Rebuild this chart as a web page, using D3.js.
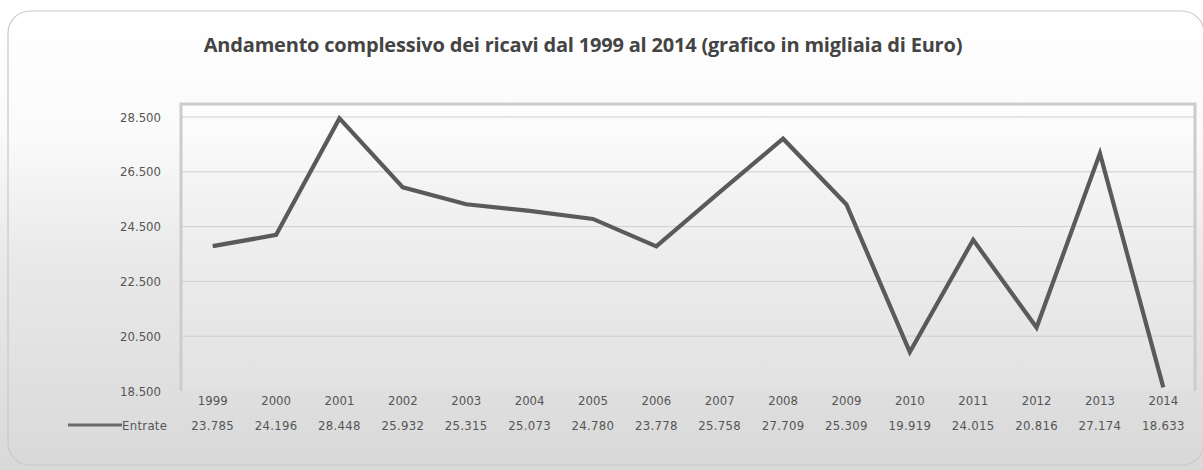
<!DOCTYPE html>
<html><head><meta charset="utf-8">
<script src="https://cdn.jsdelivr.net/npm/d3@7"></script>
<style>html,body{margin:0;padding:0;background:#fff;}svg{display:block;}</style>
</head><body>
<script>
const years = ["1999","2000","2001","2002","2003","2004","2005","2006","2007","2008","2009","2010","2011","2012","2013","2014"];
const entrate = [23785,24196,28448,25932,25315,25073,24780,23778,25758,27709,25309,19919,24015,20816,27174,18633];
const entrateLabels = ["23.785","24.196","28.448","25.932","25.315","25.073","24.780","23.778","25.758","27.709","25.309","19.919","24.015","20.816","27.174","18.633"];
const yTicks = [18500,20500,22500,24500,26500,28500];
const seriesName = "Entrate";
const chartTitle = "Andamento complessivo dei ricavi dal 1999 al 2014 (grafico in migliaia di Euro)";

(function(){
const W = 1203, H = 470;
const svg = d3.select("body").append("svg").attr("width", W).attr("height", H);
const defs = svg.append("defs");
const g1 = defs.append("linearGradient").attr("id","bg").attr("x1",0).attr("y1",0).attr("x2",0).attr("y2",1);
g1.append("stop").attr("offset","0%").attr("stop-color","#ffffff");
g1.append("stop").attr("offset","28%").attr("stop-color","#fafafa");
g1.append("stop").attr("offset","55%").attr("stop-color","#e9e9e9");
g1.append("stop").attr("offset","100%").attr("stop-color","#d9d9d9");
const g2 = defs.append("linearGradient").attr("id","plotbg").attr("x1",0).attr("y1",0).attr("x2",0).attr("y2",1);
g2.append("stop").attr("offset","0%").attr("stop-color","#ffffff");
g2.append("stop").attr("offset","30%").attr("stop-color","#f3f3f3");
g2.append("stop").attr("offset","100%").attr("stop-color","#e3e3e3");

svg.append("rect").attr("width",W).attr("height",H).attr("fill","url(#bg)");
svg.append("rect").attr("x",8).attr("y",11).attr("width",1196).attr("height",454).attr("rx",22)
  .attr("fill","url(#bg)").attr("stroke","#c8c8c8").attr("stroke-width",1.2);

svg.append("text").attr("x",583).attr("y",52).attr("text-anchor","middle")
  .attr("font-family","'Open Sans', sans-serif").attr("font-weight","bold").attr("font-size",20)
  .attr("fill","#444").attr("letter-spacing","-0.2").text(chartTitle);

const pl = 181, pr = 1195, pt = 104, pb = 391;
const x = d3.scaleBand().domain(years).range([pl, pr]);
const y = d3.scaleLinear().domain([18500, 28500]).range([391, 117]);

svg.append("rect").attr("x",pl).attr("y",pt).attr("width",pr-pl).attr("height",pb-pt)
  .attr("fill","url(#plotbg)").attr("opacity",0.7);

svg.append("g").selectAll("line").data(yTicks.filter(d=>d>18500)).join("line")
  .attr("x1",pl).attr("x2",pr).attr("y1",d=>y(d)).attr("y2",d=>y(d))
  .attr("stroke","#cfcfcf").attr("stroke-width",1);

svg.append("path").attr("d",`M${pl},${pb}V${pt}H${pr}V${pb}`)
  .attr("fill","none").attr("stroke","#cccccc").attr("stroke-width",3);

const font = "'DejaVu Sans Condensed','Liberation Sans',sans-serif";
const fs = 13;
const yAxis = d3.axisLeft(y).tickValues(yTicks).tickSize(0).tickPadding(0)
  .tickFormat(d => d3.format(",")(d).replace(",", "."));
const ya = svg.append("g").attr("transform","translate(161,0)").call(yAxis);
ya.select(".domain").remove();
ya.selectAll("text").attr("font-family",font).attr("font-size",fs).attr("fill","#555");

const line = d3.line().x((d,i)=>x(years[i])+x.bandwidth()/2).y(d=>y(d));
svg.append("path").datum(entrate).attr("d",line).attr("fill","none")
  .attr("stroke","#5a5a5a").attr("stroke-width",4.2).attr("stroke-linejoin","miter");

const xAxis = d3.axisBottom(x).tickSize(0).tickPadding(0);
const xa = svg.append("g").attr("transform","translate(0,396)").call(xAxis);
xa.select(".domain").remove();
xa.selectAll("text").attr("font-family",font).attr("font-size",fs).attr("fill","#555");

svg.append("g").selectAll("text").data(entrateLabels).join("text")
  .attr("x",(d,i)=>x(years[i])+x.bandwidth()/2).attr("y",430).attr("text-anchor","middle")
  .attr("font-family",font).attr("font-size",fs).attr("fill","#555").attr("letter-spacing","0.3").text(d=>d);

svg.append("line").attr("x1",68).attr("x2",122).attr("y1",425).attr("y2",425)
  .attr("stroke","#6a6a6a").attr("stroke-width",3);
svg.append("text").attr("x",122).attr("y",430)
  .attr("font-family",font).attr("font-size",fs).attr("fill","#555").attr("letter-spacing","0.3").text(seriesName);
})();
</script>
</body></html>
